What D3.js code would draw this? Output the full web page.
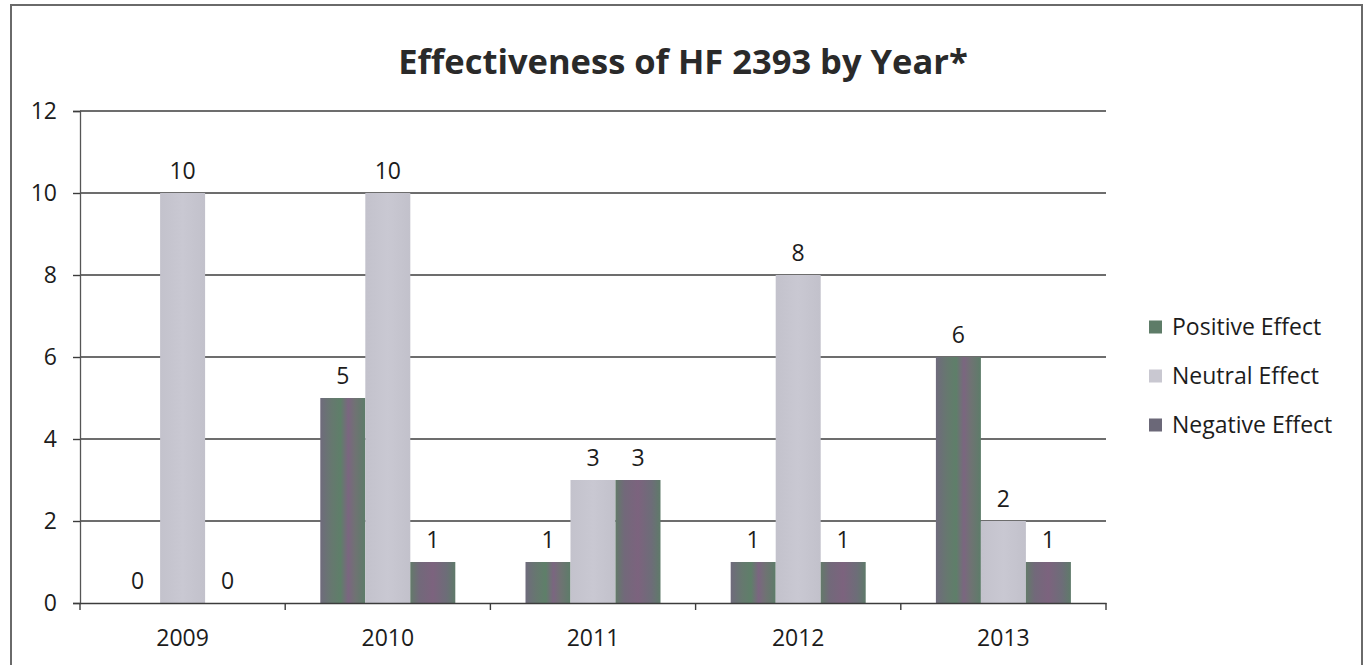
<!DOCTYPE html>
<html>
<head>
<meta charset="utf-8">
<script src="https://cdn.jsdelivr.net/npm/d3@7"></script>
<style>
  body { margin: 0; background: #fff; }
  svg { display: block; font-family: "Open Sans", Lato, sans-serif; }
</style>
</head>
<body>
<svg id="chart" width="1367" height="665"></svg>
<script>
// Number of studies per effect category, by year
const years = ["2009", "2010", "2011", "2012", "2013"];
const seriesNames = ["Positive Effect", "Neutral Effect", "Negative Effect"];
const positive = [0, 5, 1, 1, 6];
const neutral = [10, 10, 3, 8, 2];
const negative = [0, 1, 3, 1, 1];
const yTicks = [0, 2, 4, 6, 8, 10, 12];
const titleText = "Effectiveness of HF 2393 by Year*";

const seriesValues = [positive, neutral, negative];
const fills = ["url(#gPos)", "url(#gNeu)", "url(#gNeg)"];
const legendFills = ["#5e7c68", "#c9c8d1", "#6b6878"];
const textColor = "#1c1c1c";
const labelSize = 23;

const svg = d3.select("#chart");

// Bar fills: darker bars carry a green / purple banding
const defs = svg.append("defs");
function gradient(id, stops) {
  const g = defs.append("linearGradient").attr("id", id)
    .attr("x1", 0).attr("x2", 1).attr("y1", 0).attr("y2", 0);
  stops.forEach(([o, c]) => g.append("stop").attr("offset", o).attr("stop-color", c));
}
gradient("gPos", [[0, "#6f6b7c"], [0.25, "#66786f"], [0.45, "#5e7f69"], [0.62, "#7b6680"],
                  [0.78, "#6f7373"], [1, "#5d7c69"]]);
gradient("gNeu", [[0, "#c3c2cc"], [0.5, "#c9c8d2"], [1, "#c2c1cb"]]);
gradient("gNeg", [[0, "#637a6a"], [0.2, "#72697a"], [0.5, "#7c637e"], [0.8, "#6d6d78"],
                  [1, "#5f7a6a"]]);

// Outer frame
svg.append("rect")
  .attr("x", 11).attr("y", 5).attr("width", 1351).attr("height", 680)
  .attr("fill", "none").attr("stroke", "#6a6a6a").attr("stroke-width", 2);

// Scales
const x0 = d3.scaleBand().domain(years).range([80, 1106]).paddingInner(0).paddingOuter(0);
const x1 = d3.scaleBand().domain(seriesNames).range([0, x0.bandwidth()])
  .paddingInner(0).paddingOuter(0.78);
const y = d3.scaleLinear().domain([0, 12]).range([603, 111]);

// Horizontal gridlines
svg.append("g").selectAll("line").data(yTicks.filter(t => t > 0)).join("line")
  .attr("x1", 80).attr("x2", 1106)
  .attr("y1", d => y(d)).attr("y2", d => y(d))
  .attr("stroke", "#3c3c3c").attr("stroke-width", 1.4);

// Y axis
const yAxis = svg.append("g").attr("transform", "translate(80,0)")
  .call(d3.axisLeft(y).tickValues(yTicks).tickSize(7).tickPadding(16));
yAxis.select(".domain").attr("stroke", "#555").attr("stroke-width", 1.3);
yAxis.selectAll(".tick line").attr("stroke", "#3c3c3c").attr("stroke-width", 1.4);
yAxis.selectAll(".tick text").attr("font-size", labelSize).attr("fill", textColor)
  .attr("font-family", "'Open Sans', sans-serif");

// Bars
const groups = svg.append("g").selectAll("g").data(years).join("g")
  .attr("transform", d => `translate(${x0(d)},0)`);
groups.selectAll("rect")
  .data((yr, i) => seriesNames.map((s, k) => ({ s, k, v: seriesValues[k][i] })))
  .join("rect")
  .attr("x", d => x1(d.s)).attr("width", x1.bandwidth())
  .attr("y", d => y(d.v)).attr("height", d => y(0) - y(d.v))
  .attr("fill", d => fills[d.k]);

// Value labels
groups.selectAll("text")
  .data((yr, i) => seriesNames.map((s, k) => ({ s, k, v: seriesValues[k][i] })))
  .join("text")
  .attr("x", d => x1(d.s) + x1.bandwidth() / 2)
  .attr("y", d => y(d.v) - 14)
  .attr("text-anchor", "middle")
  .attr("font-size", labelSize).attr("fill", textColor)
  .text(d => d.v);

// X axis
const xAxis = svg.append("g").attr("transform", "translate(0,603)")
  .call(d3.axisBottom(x0).tickSize(0).tickPadding(27));
xAxis.select(".domain").attr("stroke", "#3c3c3c").attr("stroke-width", 1.4);
xAxis.selectAll(".tick text").attr("font-size", labelSize).attr("fill", textColor)
  .attr("font-family", "'Open Sans', sans-serif");
// category boundary ticks
svg.append("g").selectAll("line")
  .data(years.map(d => x0(d)).concat([x0.range()[1]])).join("line")
  .attr("x1", d => d).attr("x2", d => d).attr("y1", 603).attr("y2", 610)
  .attr("stroke", "#3c3c3c").attr("stroke-width", 1.4);

// Title
svg.append("text")
  .attr("x", 683).attr("y", 74).attr("text-anchor", "middle")
  .attr("font-size", 34.5).attr("font-weight", 700).attr("fill", "#2a2a2a")
  .text(titleText);

// Legend
const legend = svg.append("g").selectAll("g").data(seriesNames).join("g")
  .attr("transform", (d, i) => `translate(1149,${327 + i * 49})`);
legend.append("rect").attr("x", 0).attr("y", -6.5).attr("width", 13).attr("height", 13)
  .attr("fill", (d, i) => legendFills[i]);
legend.append("text").attr("x", 23).attr("y", 8).attr("font-size", labelSize).attr("fill", textColor)
  .text(d => d);
</script>
</body>
</html>
